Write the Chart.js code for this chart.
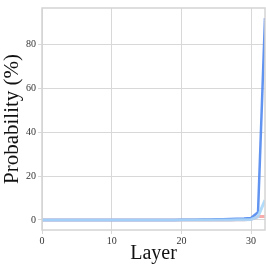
<!DOCTYPE html>
<html>
<head>
<meta charset="utf-8">
<script src="https://cdn.jsdelivr.net/npm/chart.js@4"></script>
<style>
  html, body { margin: 0; padding: 0; background: #fff; }
  #wrap { width: 266px; height: 266px; }
</style>
</head>
<body>
<div id="wrap"><canvas id="grafico" width="266" height="266"></canvas></div>
<script>
// dados
const layers = [0,1,2,3,4,5,6,7,8,9,10,11,12,13,14,15,16,17,18,19,20,21,22,23,24,25,26,27,28,29,30,31,32];
const probTop = [0,0,0,0,0,0,0,0,0,0,0,0,0,0,0,0,0,0,0,0,0.05,0.05,0.1,0.15,0.2,0.25,0.3,0.4,0.5,0.6,0.9,3.5,92];
const probLight = [0,0,0,0,0,0,0,0,0,0,0,0,0,0,0,0,0,0,0,0,0,0,0,0,0,0,0,0,0.05,0.1,0.2,1.5,9];
const probPink = [0,0,0,0,0,0,0,0,0,0,0,0,0,0,0,0,0,0,0,0,0,0,0,0,0,0,0,0,0.05,0.1,0.3,1.5,1.5];
const yTicks = [0, 20, 40, 60, 80];
const xTicks = [0, 10, 20, 30];

const pts = (ys) => layers.map((l, i) => ({ x: l, y: ys[i] }));

const serif = "'Liberation Serif', 'DejaVu Serif', serif";

const frame = {
  id: "frame",
  afterDraw(chart) {
    const a = chart.chartArea, c = chart.ctx;
    c.save();
    c.strokeStyle = "#d4d4d4";
    c.lineWidth = 1.5;
    c.strokeRect(a.left, a.top, a.right - a.left, a.bottom - a.top);
    c.restore();
  }
};

new Chart(document.getElementById("grafico"), {
  type: "line",
  data: {
    datasets: [
      // o primeiro fica por cima
      { data: pts(probLight), borderColor: "rgba(170,215,248,0.9)", borderWidth: 3, pointRadius: 0, tension: 0 },
      { data: pts(probTop), borderColor: "rgba(80,135,240,0.9)", borderWidth: 2.5, pointRadius: 0, tension: 0 },
      { data: pts(probPink), borderColor: "rgba(245,150,150,0.8)", borderWidth: 3, pointRadius: 0, tension: 0 }
    ]
  },
  options: {
    responsive: false,
    animation: false,
    layout: { padding: { top: 5, right: 1, left: 0, bottom: 0 } },
    plugins: { legend: { display: false }, tooltip: { enabled: false } },
    scales: {
      x: {
        type: "linear",
        min: 0, max: 32,
        afterBuildTicks: (ax) => { ax.ticks = xTicks.map(v => ({ value: v })); },
        afterFit: (ax) => { ax.height = 36; },
        grid: { color: "#d8d8d8", lineWidth: 1, tickLength: 4 },
        border: { display: false },
        ticks: { color: "#333", font: { family: serif, size: 10 }, padding: 1, maxRotation: 0 },
        title: { display: true, text: "Layer", color: "#111", font: { family: serif, size: 20 }, padding: 0 }
      },
      y: {
        min: -4.6, max: 96.6,
        afterBuildTicks: (ax) => { ax.ticks = yTicks.map(v => ({ value: v })); },
        afterFit: (ax) => { ax.width = 42; },
        grid: { color: "#d8d8d8", lineWidth: 1, tickLength: 4 },
        border: { display: false },
        ticks: { color: "#333", font: { family: serif, size: 10 }, padding: 2 },
        title: { display: true, text: "Probability (%)", color: "#111", font: { family: serif, size: 21 }, padding: { top: 0, bottom: 1 } }
      }
    }
  },
  plugins: [frame]
});
</script>
</body>
</html>
